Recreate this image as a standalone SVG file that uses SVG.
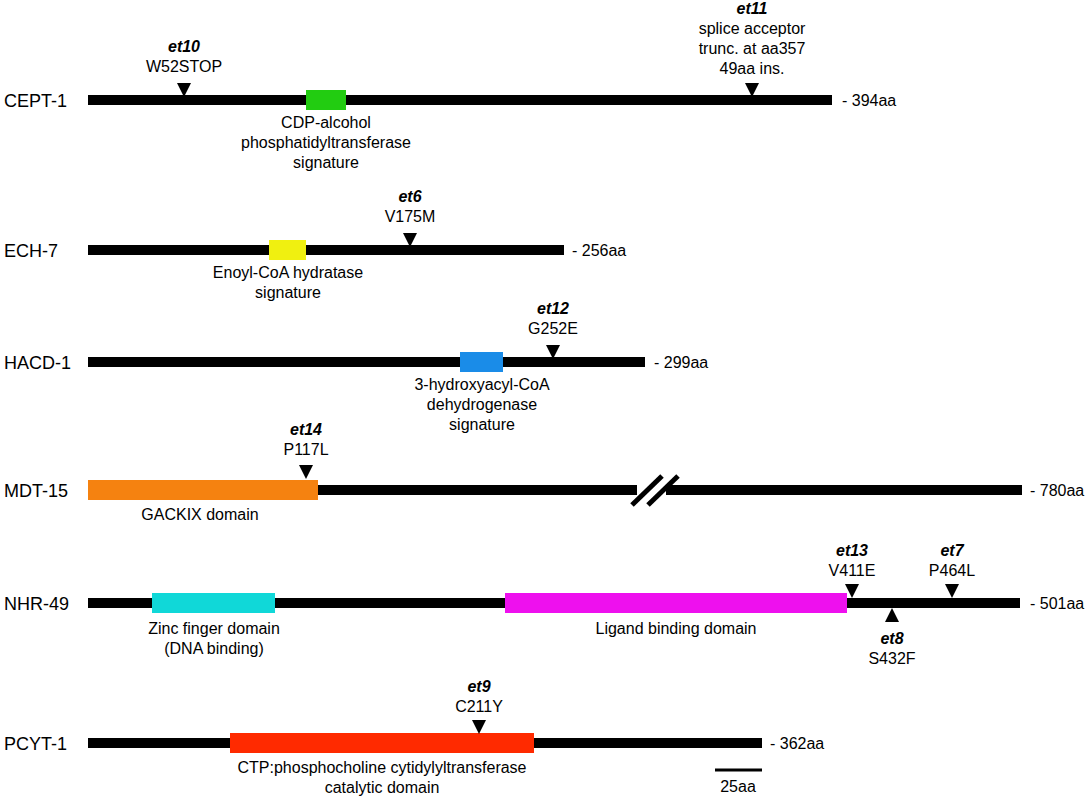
<svg xmlns="http://www.w3.org/2000/svg" width="1091" height="800" viewBox="0 0 1091 800">
<style>
text{font-family:"Liberation Sans",Arial,sans-serif;font-size:16px;fill:#000}
.n{font-size:18px}
.c{text-anchor:middle}
.b{font-weight:bold;font-style:italic}
.bar{stroke:#000;stroke-width:10}
.t{fill:#000}
</style>
<rect width="1091" height="800" fill="#fff"/>
<g id="cept1">
<text class="n" x="4" y="107">CEPT-1</text>
<line class="bar" x1="88" y1="100" x2="832" y2="100"/>
<rect x="306" y="90" width="40" height="20" fill="#22cc11"/>
<text x="842" y="106">- 394aa</text>
<path class="t" d="M177,83 L191,83 L184,97Z"/>
<text class="c b" x="184" y="52">et10</text><text class="c" x="184" y="72">W52STOP</text>
<path class="t" d="M745,83 L759,83 L752,97Z"/>
<text class="c b" x="752" y="14">et11</text><text class="c" x="752" y="34">splice acceptor</text><text class="c" x="752" y="54">trunc. at aa357</text><text class="c" x="752" y="74">49aa ins.</text>
<text class="c" x="326" y="128">CDP-alcohol</text><text class="c" x="326" y="148">phosphatidyltransferase</text><text class="c" x="326" y="168">signature</text>
</g>
<g id="ech7">
<text class="n" x="4" y="257">ECH-7</text>
<line class="bar" x1="88" y1="250" x2="564" y2="250"/>
<rect x="269" y="240" width="37" height="20" fill="#f0f010"/>
<text x="572" y="256">- 256aa</text>
<path class="t" d="M403,233 L417,233 L410,247Z"/>
<text class="c b" x="410" y="202">et6</text><text class="c" x="410" y="222">V175M</text>
<text class="c" x="288" y="278">Enoyl-CoA hydratase</text><text class="c" x="288" y="298">signature</text>
</g>
<g id="hacd1">
<text class="n" x="4" y="369">HACD-1</text>
<line class="bar" x1="88" y1="362" x2="645" y2="362"/>
<rect x="460" y="352" width="43" height="20" fill="#1a8ce8"/>
<text x="654" y="368">- 299aa</text>
<path class="t" d="M546,345 L560,345 L553,359Z"/>
<text class="c b" x="553" y="314">et12</text><text class="c" x="553" y="334">G252E</text>
<text class="c" x="482" y="390">3-hydroxyacyl-CoA</text><text class="c" x="482" y="410">dehydrogenase</text><text class="c" x="482" y="430">signature</text>
</g>
<g id="mdt15">
<text class="n" x="4" y="497">MDT-15</text>
<line class="bar" x1="88" y1="490" x2="637" y2="490"/>
<line class="bar" x1="666" y1="490" x2="1022" y2="490"/>
<line stroke="#000" stroke-width="5" x1="632" y1="505" x2="662" y2="476"/>
<line stroke="#000" stroke-width="5" x1="648" y1="505" x2="678" y2="476"/>
<rect x="88" y="480" width="230" height="20" fill="#f58210"/>
<text x="1030" y="496">- 780aa</text>
<path class="t" d="M299,465 L313,465 L306,479Z"/>
<text class="c b" x="306" y="435">et14</text><text class="c" x="306" y="455">P117L</text>
<text class="c" x="200" y="520">GACKIX domain</text>
</g>
<g id="nhr49">
<text class="n" x="4" y="610">NHR-49</text>
<line class="bar" x1="88" y1="603" x2="1020" y2="603"/>
<rect x="152" y="593" width="123" height="20" fill="#10d8d8"/>
<rect x="505" y="593" width="342" height="20" fill="#ee10ee"/>
<text x="1030" y="609">- 501aa</text>
<path class="t" d="M845,584 L859,584 L852,598Z"/>
<text class="c b" x="852" y="556">et13</text><text class="c" x="852" y="576">V411E</text>
<path class="t" d="M945,584 L959,584 L952,598Z"/>
<text class="c b" x="952" y="556">et7</text><text class="c" x="952" y="576">P464L</text>
<path class="t" d="M885,622 L899,622 L892,608Z"/>
<text class="c b" x="892" y="644">et8</text><text class="c" x="892" y="664">S432F</text>
<text class="c" x="214" y="634">Zinc finger domain</text><text class="c" x="214" y="654">(DNA binding)</text>
<text class="c" x="676" y="634">Ligand binding domain</text>
</g>
<g id="pcyt1">
<text class="n" x="4" y="750">PCYT-1</text>
<line class="bar" x1="88" y1="743" x2="762" y2="743"/>
<rect x="230" y="733" width="304" height="20" fill="#ff2a00"/>
<text x="770" y="749">- 362aa</text>
<path class="t" d="M472,720 L486,720 L479,734Z"/>
<text class="c b" x="479" y="692">et9</text><text class="c" x="479" y="712">C211Y</text>
<text class="c" x="382" y="773">CTP:phosphocholine cytidylyltransferase</text><text class="c" x="382" y="793">catalytic domain</text>
<line stroke="#000" stroke-width="3" x1="715" y1="770" x2="762" y2="770"/>
<text class="c" x="738" y="792">25aa</text>
</g>
</svg>
